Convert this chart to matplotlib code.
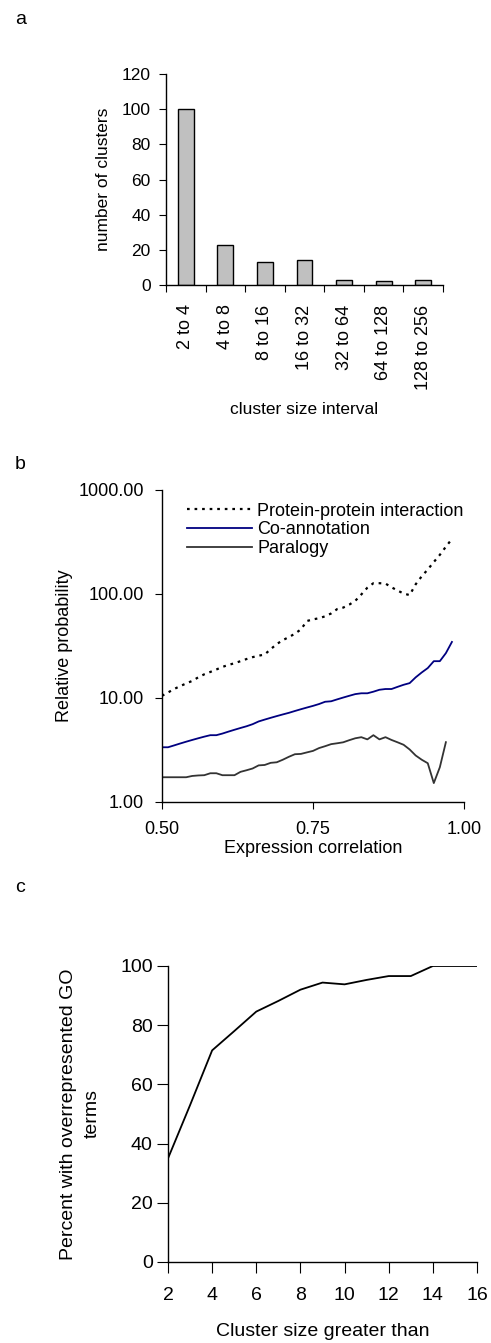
import numpy as np
import matplotlib
matplotlib.use('Agg')
import matplotlib.pyplot as plt

plt.rcParams['font.family'] = ['Liberation Sans', 'DejaVu Sans']

# panel a data
size_intervals = ['2 to 4', '4 to 8', '8 to 16', '16 to 32', '32 to 64', '64 to 128', '128 to 256']
n_clusters = [100, 23, 13, 14, 3, 2, 3]

# panel b data
corr = np.round(np.arange(0.50, 0.985, 0.01), 2)
ppi = [10.5, 11.3, 12.2, 13.0, 13.8, 14.6, 15.8, 16.9, 17.8, 18.8,
       19.9, 20.8, 21.6, 22.6, 23.7, 24.7, 25.5, 26.2, 29.5, 33.0,
       36.0, 38.5, 41.5, 45.7, 55.0, 57.0, 58.5, 61.0, 65.0, 71.6,
       74.0, 79.0, 86.0, 99.0, 115.0, 127.0, 127.0, 126.0, 116.0, 108.0,
       101.0, 97.6, 124.0, 148.0, 172.0, 203.0, 238.0, 285.0, 338.0]
coannot = [3.36, 3.36, 3.5, 3.65, 3.8, 3.95, 4.1, 4.25, 4.39, 4.39,
           4.55, 4.75, 4.95, 5.15, 5.35, 5.6, 5.95, 6.2, 6.45, 6.7,
           6.95, 7.2, 7.5, 7.8, 8.1, 8.4, 8.75, 9.2, 9.3, 9.7,
           10.1, 10.5, 10.9, 11.1, 11.1, 11.5, 12.0, 12.2, 12.2, 12.8,
           13.4, 13.9, 15.8, 17.6, 19.4, 22.6, 22.6, 27.0, 34.6]
paralogy = [1.73, 1.73, 1.73, 1.73, 1.73, 1.78, 1.80, 1.81, 1.89, 1.89,
            1.81, 1.81, 1.81, 1.95, 2.02, 2.10, 2.25, 2.27, 2.38, 2.41,
            2.55, 2.72, 2.88, 2.90, 3.0, 3.1, 3.3, 3.44, 3.6, 3.67,
            3.75, 3.93, 4.1, 4.2, 4.0, 4.39, 4.0, 4.2, 3.95, 3.75,
            3.55, 3.2, 2.8, 2.55, 2.36, 1.52, 2.16, 3.76]

# panel c data
min_size = np.arange(2, 17)
pct_go = [35, 53, 71.5, 78, 84.6, 88.2, 92, 94.4, 93.8, 95.3, 96.6, 96.6, 100, 100, 100]

W, H = 491, 1343
fig = plt.figure(figsize=(W/100, H/100), dpi=100)

def box(l, t, r, b):
    return [l/W, 1-b/H, (r-l)/W, (b-t)/H]

def clean(ax):
    ax.spines['top'].set_visible(False)
    ax.spines['right'].set_visible(False)
    for s in ['left', 'bottom']:
        ax.spines[s].set_linewidth(1.0)

# ---- a ----
ax1 = fig.add_axes(box(166, 74, 443, 285))
clean(ax1)
pos = np.arange(len(size_intervals))
ax1.bar(pos, n_clusters, width=0.4, color='#c0c0c0', edgecolor='black', linewidth=1.0)
ax1.set_xlim(-0.5, len(size_intervals)-0.5)
ax1.set_ylim(0, 120)
ax1.set_yticks(range(0, 121, 20))
ax1.set_xticks(np.arange(-0.5, len(size_intervals), 1.0))
ax1.set_xticklabels([])
ax1.set_xticks(pos, minor=True)
ax1.set_xticklabels(size_intervals, minor=True, rotation=90, va='top')
ax1.tick_params(axis='x', which='minor', length=0, pad=14, labelsize=13)
ax1.tick_params(axis='x', which='major', length=5, direction='out')
ax1.tick_params(axis='y', length=5, pad=6, labelsize=12.5)
ax1.set_ylabel('number of clusters', fontsize=12.5, labelpad=8)
ax1.set_xlabel('cluster size interval', fontsize=12.5, labelpad=9)
fig.text(15/W, 1-20/H, 'a', fontsize=14, va='center', ha='left')

# ---- b ----
ax2 = fig.add_axes(box(162, 490, 464, 802))
clean(ax2)
ax2.plot(corr[:len(ppi)], ppi, color='black', linestyle=(0, (1.2, 2.2)), linewidth=1.6,
         label='Protein-protein interaction')
ax2.plot(corr[:len(coannot)], coannot, color='#000080', linewidth=1.3, label='Co-annotation')
ax2.plot(corr[:len(paralogy)], paralogy, color='#333333', linewidth=1.3, label='Paralogy')
ax2.set_yscale('log')
ax2.set_ylim(1, 1000)
ax2.set_xlim(0.5, 1.0)
ax2.set_yticks([1, 10, 100, 1000])
ax2.set_yticklabels(['1.00', '10.00', '100.00', '1000.00'])
ax2.minorticks_off()
ax2.set_xticks([0.5, 0.75, 1.0])
ax2.set_xticklabels(['0.50', '0.75', '1.00'])
ax2.tick_params(length=5, labelsize=13)
ax2.tick_params(axis='y', pad=8)
ax2.tick_params(axis='x', pad=9)
ax2.set_ylabel('Relative probability', fontsize=13, labelpad=4)
ax2.set_xlabel('Expression correlation', fontsize=13, labelpad=1)
ax2.legend(loc='upper left', bbox_to_anchor=(0.04, 1.0), frameon=False, fontsize=13,
           handlelength=3.6, handletextpad=0.3, labelspacing=0.1, borderpad=0.2)
fig.text(15/W, 1-465/H, 'b', fontsize=14, va='center', ha='left')

# ---- c ----
ax3 = fig.add_axes(box(168, 966, 477, 1262))
clean(ax3)
ax3.plot(min_size, pct_go, color='black', linewidth=1.3)
ax3.set_xlim(2, 16)
ax3.set_ylim(0, 100)
ax3.set_xticks(range(2, 17, 2))
ax3.set_yticks(range(0, 101, 20))
ax3.tick_params(length=8, labelsize=14)
ax3.tick_params(axis='x', pad=10)
ax3.tick_params(axis='y', pad=3)
ax3.set_ylabel('Percent with overrepresented GO\nterms', fontsize=14, labelpad=14, linespacing=1.5)
ax3.set_xlabel('Cluster size greater than', fontsize=14, labelpad=14)
fig.text(15/W, 1-887/H, 'c', fontsize=14, va='center', ha='left')

fig.savefig('out.png', dpi=100)
